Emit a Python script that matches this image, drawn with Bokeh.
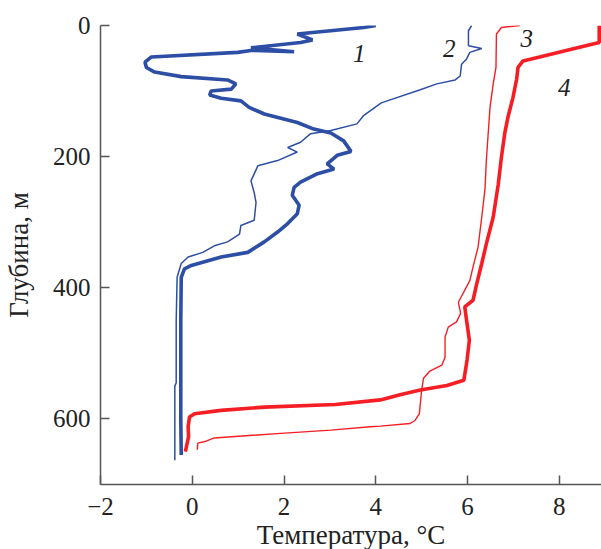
from bokeh.plotting import figure
from bokeh.models import Range1d, FixedTicker, Title
from bokeh.core.properties import value
from bokeh.embed import file_html
from bokeh.resources import INLINE

# Curve 1 (thick blue)
T1 = [4.00, 3.74, 2.29, 2.62, 2.36, 1.28, 2.22, 1.28, 0.99, -0.89, -1.03, -1.00, -0.82, -0.24,
      0.77, 0.95, 0.85, 0.41, 0.38, 0.63, 1.06, 1.24, 1.57, 2.29, 2.65, 3.02, 3.30, 3.46, 3.16,
      2.94, 3.09, 2.73, 2.36, 2.22, 2.18, 2.33, 2.29, 2.08, 1.86, 1.57, 1.21, 0.63, -0.02, -0.17,
      -0.24, -0.25, -0.25, -0.24]
D1 = [0, 3, 13, 22, 26, 34, 40, 38, 41, 48, 56, 64, 71, 78,
      83, 89, 97, 100, 106, 111, 115, 125, 135, 148, 158, 164, 176, 192, 198,
      211, 219, 226, 239, 247, 259, 274, 287, 302, 315, 330, 346, 353, 366, 371,
      384, 450, 600, 655]

# Curve 2 (thin blue)
T2 = [6.09, 6.02, 6.02, 6.31, 6.05, 5.98, 5.87, 5.84, 5.73, 5.33, 4.97, 4.12, 3.74, 3.59,
      3.02, 2.58, 2.36, 2.08, 2.29, 1.86, 1.43, 1.28, 1.35, 1.39, 1.35, 1.06, 1.03, 0.77,
      0.48, 0.23, -0.09, -0.24, -0.33, -0.35, -0.35, -0.38, -0.38]
D2 = [0, 8, 31, 35, 41, 51, 59, 77, 83, 89, 98, 118, 137, 150,
      160, 165, 178, 186, 193, 206, 214, 237, 255, 270, 297, 305, 318, 330,
      336, 346, 353, 363, 384, 450, 545, 550, 663]

# Curve 3 (thin red)
T3 = [7.14, 6.74, 6.63, 6.62, 6.56, 6.49, 6.45, 6.41, 6.38, 6.31, 6.23, 6.12, 6.05, 5.80,
      5.85, 5.76, 5.58, 5.51, 5.51, 5.44, 5.18, 5.04, 5.00, 4.95, 4.86, 4.75, 4.10, 3.88,
      3.02, 1.93, 0.48, 0.30, 0.12, 0.11]
D3 = [0, 3, 13, 64, 89, 125, 165, 206, 250, 292, 338, 368, 389, 422,
      439, 452, 460, 475, 506, 518, 527, 538, 556, 592, 602, 607, 611, 612,
      617, 622, 629, 634, 637, 647]

# Curve 4 (thick red)
T4 = [8.87, 8.87, 8.15, 7.57, 7.21, 7.10, 7.07, 6.99, 6.88, 6.81, 6.74, 6.67, 6.56, 6.41,
      6.31, 6.20, 6.12, 5.94, 5.97, 6.04, 5.99, 5.92, 5.55, 4.97, 4.53, 4.10, 3.12, 1.57,
      0.63, 0.05, -0.06, -0.09, -0.08, -0.15]
D4 = [0, 26, 38, 48, 54, 64, 82, 110, 140, 165, 200, 242, 292, 333,
      363, 394, 419, 429, 445, 480, 510, 541, 549, 556, 563, 571, 578, 582,
      587, 592, 597, 612, 627, 650]

curve_labels = ["1", "2", "3", "4"]
label_T = [3.64, 5.60, 7.29, 8.11]
label_D = [43, 35, 20, 94]

x_ticks = [-2, 0, 2, 4, 6, 8]
y_ticks = [0, 200, 400, 600]

FONT = "Liberation Serif"
BLUE = "#2D4EA5"
RED = "#F41E24"

p = figure(width=601, height=549, output_backend="svg", toolbar_location=None,
           x_range=Range1d(-2, 8.92), y_range=Range1d(700, 0),
           min_border_left=98, min_border_top=25, min_border_right=0, min_border_bottom=65)
p.outline_line_color = None
p.grid.grid_line_color = None
p.background_fill_color = "white"

p.line(T1, D1, line_color=BLUE, line_width=3.6)
p.line(T2, D2, line_color=BLUE, line_width=1.5)
p.line(T3, D3, line_color=RED, line_width=1.4)
p.line(T4, D4, line_color=RED, line_width=3.6)

p.text(x=label_T, y=label_D, text=curve_labels, text_font=value(FONT), text_font_style="italic",
       text_font_size="25px", text_align="center", text_baseline="middle", text_color="#222222")

for ax in (p.xaxis[0], p.yaxis[0]):
    ax.major_tick_in = 9
    ax.major_tick_out = 0
    ax.minor_tick_in = 0
    ax.minor_tick_out = 0
    ax.axis_line_color = "#555555"
    ax.axis_line_width = 1.5
    ax.major_tick_line_color = "#555555"
    ax.major_tick_line_width = 1.5
    ax.major_label_text_font = FONT
    ax.major_label_text_font_size = "25px"
    ax.major_label_text_color = "#222222"
    ax.axis_label_text_font = FONT
    ax.axis_label_text_font_size = "27px"
    ax.axis_label_text_font_style = "normal"
    ax.axis_label_text_color = "#222222"

p.xaxis.ticker = FixedTicker(ticks=x_ticks)
p.yaxis.ticker = FixedTicker(ticks=y_ticks)
p.xaxis.major_label_overrides = {t: ("\u2212" + str(-t) if t < 0 else str(t)) for t in x_ticks}
p.xaxis.major_label_standoff = 13
p.yaxis.major_label_standoff = 10
p.yaxis.axis_label = "Глубина, м"
p.yaxis.axis_label_standoff = 16

xt = Title(text="Температура, °С", align="center", offset=-23,
           text_font=FONT, text_font_size="27px", text_font_style="normal",
           text_color="#222222", standoff=0)
p.add_layout(xt, "below")

open("out.html", "w").write(file_html(p, INLINE))
